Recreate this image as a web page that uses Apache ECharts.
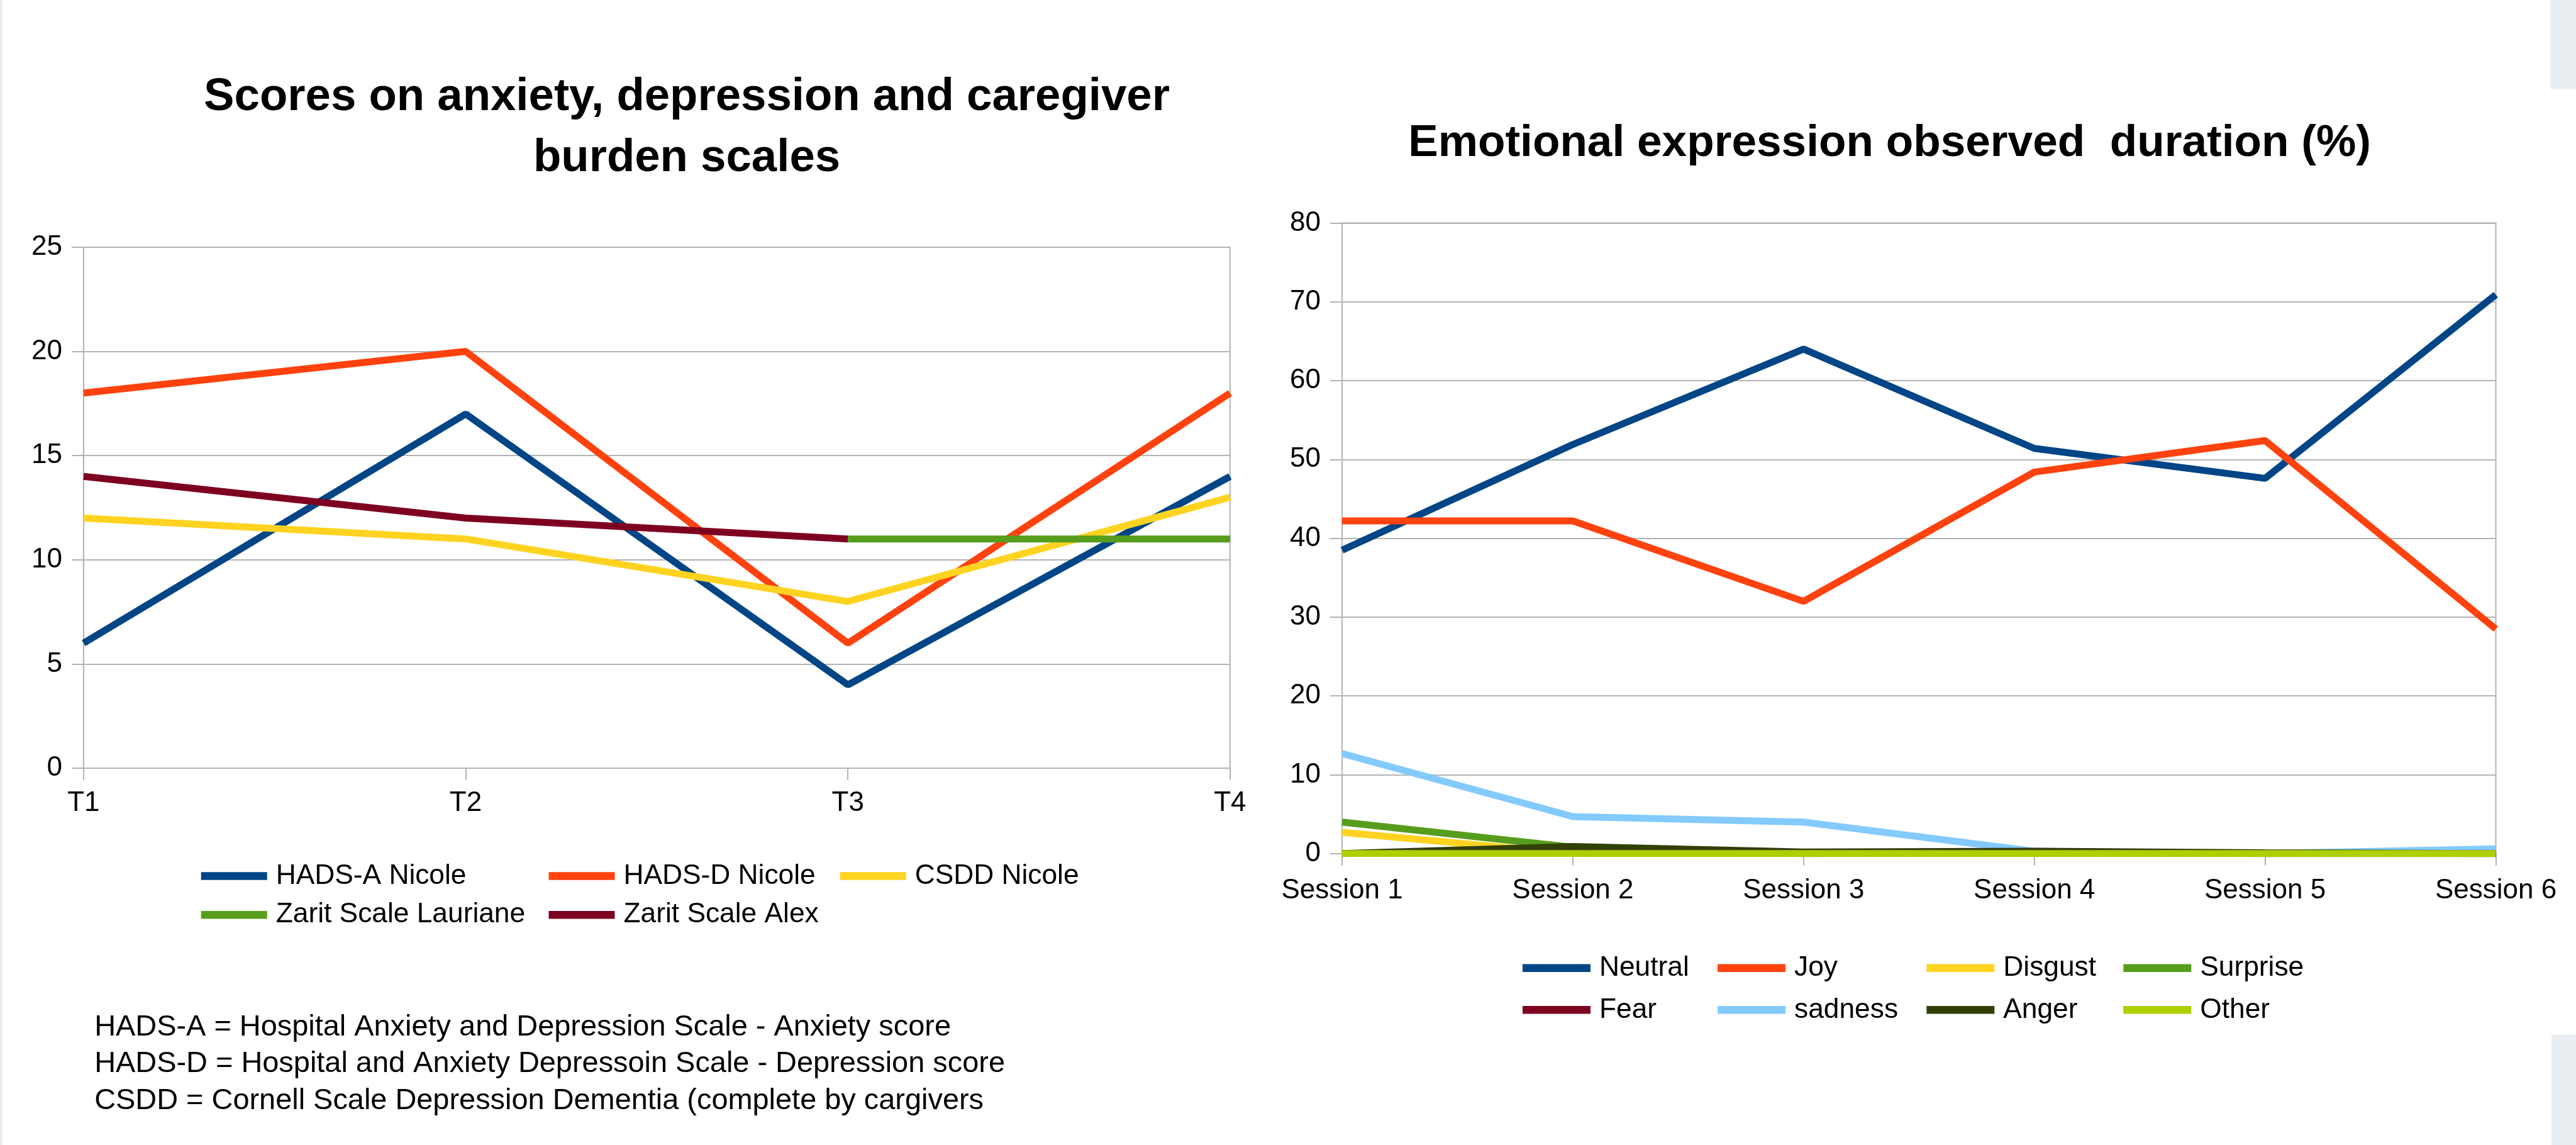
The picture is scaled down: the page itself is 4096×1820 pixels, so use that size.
<!DOCTYPE html>
<html>
<head>
<meta charset="utf-8">
<script src="https://cdn.jsdelivr.net/npm/echarts@6/dist/echarts.min.js"></script>
<style>html,body{margin:0;padding:0;background:#fff}#c{width:4096px;height:1820px}</style>
</head>
<body>
<div id="c"></div>
<script>
// ---- data ----
const timeCats = ['T1', 'T2', 'T3', 'T4'];
const hadsA = [6, 17, 4, 14];
const hadsD = [18, 20, 6, 18];
const csdd = [12, 11, 8, 13];
const zaritLauriane = [null, null, 11, 11];
const zaritAlex = [14, 12, 11, null];

const sessionCats = ['Session 1', 'Session 2', 'Session 3', 'Session 4', 'Session 5', 'Session 6'];
const neutral = [38.5, 51.9, 64.0, 51.4, 47.6, 70.9];
const joy = [42.2, 42.2, 32.0, 48.4, 52.4, 28.5];
const disgust = [2.7, 0, 0, 0, 0, 0];
const surprise = [4.0, 0.8, 0, 0, 0, 0];
const fear = [0, 0.3, 0, 0.2, 0, 0];
const sadness = [12.7, 4.7, 4.0, 0.3, 0, 0.6];
const anger = [0, 0.9, 0.2, 0.3, 0.1, 0];
const other = [0, 0, 0, 0, 0, 0];

const leftTicks = [0, 25, 5];   // min, max, interval
const rightTicks = [0, 80, 10];

const titleLeft = ['Scores on anxiety, depression and caregiver', 'burden scales'];
const titleRight = 'Emotional expression observed  duration (%)';
const notes = [
  'HADS-A = Hospital Anxiety and Depression Scale - Anxiety score',
  'HADS-D = Hospital and Anxiety Depressoin Scale - Depression score',
  'CSDD = Cornell Scale Depression Dementia (complete by cargivers'
];

// ---- layout ----
const k = 0.963;
const FONT = '"Liberation Sans", Arial, sans-serif';
const C = {
  blue: '#004586', orange: '#ff420e', yellow: '#ffd320', green: '#579d1c',
  maroon: '#7e0021', lightblue: '#83caff', darkgreen: '#314004', lime: '#aecf00'
};
const gridColor = '#b3b3b3';
const lw = 11;
const tickFont = 44;

function lineSeries(name, data, color, xi) {
  return {
    name, type: 'line', data, xAxisIndex: xi, yAxisIndex: xi,
    showSymbol: false, symbol: 'none', connectNulls: false,
    lineStyle: { color, width: lw }, itemStyle: { color },
    emphasis: { disabled: true }, animation: false
  };
}

function legendCol(names, x, top, gap, symW) {
  return {
    data: names, orient: 'vertical', left: x, top: top, padding: 0,
    itemGap: gap, itemWidth: symW, itemHeight: 12.5, icon: 'rect',
    selectedMode: false,
    textStyle: { fontFamily: FONT, fontSize: 44.3, lineHeight: 44, color: '#000', padding: [0, 0, 0, 9] }
  };
}

function gAxisX(cats, gi, margin) {
  return {
    type: 'category', gridIndex: gi, data: cats, boundaryGap: false,
    axisLine: { show: true, lineStyle: { color: gridColor, width: 2 } },
    axisTick: { show: true, length: 19, lineStyle: { color: gridColor, width: 2 } },
    axisLabel: { interval: 0, margin, color: '#000', fontFamily: FONT, fontSize: tickFont },
    splitLine: { show: false }
  };
}
function gAxisY(t, gi) {
  return {
    type: 'value', gridIndex: gi, min: t[0], max: t[1], interval: t[2],
    axisLine: { show: true, lineStyle: { color: gridColor, width: 2 } },
    axisTick: { show: true, length: 19, lineStyle: { color: gridColor, width: 2 } },
    axisLabel: { margin: 34, color: '#000', fontFamily: FONT, fontSize: tickFont },
    splitLine: { show: true, lineStyle: { color: gridColor, width: 2 } }
  };
}

const titleFont = 72.6;
const graphic = [
  { type: 'rect', shape: { x: 0, y: 0, width: 4, height: 1820 }, style: { fill: '#e8eef1' }, silent: true },
  { type: 'rect', shape: { x: 4211 * k, y: 0, width: 4096 - 4211 * k, height: 147 * k }, style: { fill: '#e8eef1' }, silent: true },
  { type: 'rect', shape: { x: 4213 * k, y: 1708 * k, width: 4096 - 4213 * k, height: 1820 - 1708 * k }, style: { fill: '#e8eef1' }, silent: true },
  { type: 'text', x: 1134 * k, y: 161 * k, style: { text: titleLeft[0], font: 'bold ' + titleFont + 'px ' + FONT, fill: '#000', align: 'center', verticalAlign: 'middle' } },
  { type: 'text', x: 1134 * k, y: 262 * k, style: { text: titleLeft[1], font: 'bold ' + titleFont + 'px ' + FONT, fill: '#000', align: 'center', verticalAlign: 'middle' } },
  { type: 'text', x: 3120 * k, y: 237 * k, style: { text: titleRight, font: 'bold 71.2px ' + FONT, fill: '#000', align: 'center', verticalAlign: 'middle' } }
];
const noteY = [1696, 1756, 1817];
notes.forEach((t, i) => graphic.push({
  type: 'text', x: 156 * k, y: noteY[i] * k,
  style: { text: t, font: '46.9px ' + FONT, fill: '#000', align: 'left', verticalAlign: 'middle' }
}));

const option = {
  backgroundColor: '#ffffff',
  animation: false,
  grid: [
    { left: 138 * k, top: 408 * k, width: (2031 - 138) * k, height: (1268 - 408) * k, show: true, borderColor: gridColor, borderWidth: 2, containLabel: false },
    { left: 2216 * k, top: 368 * k, width: (4121 - 2216) * k, height: (1409 - 368) * k, show: true, borderColor: gridColor, borderWidth: 2, containLabel: false }
  ],
  xAxis: [gAxisX(timeCats, 0, 34), gAxisX(sessionCats, 1, 37)],
  yAxis: [gAxisY(leftTicks, 0), gAxisY(rightTicks, 1)],
  legend: [
    legendCol(['HADS-A Nicole', 'Zarit Scale Lauriane'], 332 * k, 1446 * k - 22, 64 * k - 44, 105),
    legendCol(['HADS-D Nicole', 'Zarit Scale Alex'], 906 * k, 1446 * k - 22, 64 * k - 44, 105),
    legendCol(['CSDD Nicole'], 1387 * k, 1446 * k - 22, 64 * k - 44, 105),
    legendCol(['Neutral', 'Fear'], 2514 * k, 1598 * k - 22, 69 * k - 44, 108),
    legendCol(['Joy', 'sadness'], 2836 * k, 1598 * k - 22, 69 * k - 44, 108),
    legendCol(['Disgust', 'Anger'], 3181 * k, 1598 * k - 22, 69 * k - 44, 108),
    legendCol(['Surprise', 'Other'], 3506 * k, 1598 * k - 22, 69 * k - 44, 108)
  ],
  graphic,
  series: [
    lineSeries('HADS-A Nicole', hadsA, C.blue, 0),
    lineSeries('HADS-D Nicole', hadsD, C.orange, 0),
    lineSeries('CSDD Nicole', csdd, C.yellow, 0),
    lineSeries('Zarit Scale Lauriane', zaritLauriane, C.green, 0),
    lineSeries('Zarit Scale Alex', zaritAlex, C.maroon, 0),
    lineSeries('Neutral', neutral, C.blue, 1),
    lineSeries('Joy', joy, C.orange, 1),
    lineSeries('Disgust', disgust, C.yellow, 1),
    lineSeries('Surprise', surprise, C.green, 1),
    lineSeries('Fear', fear, C.maroon, 1),
    lineSeries('sadness', sadness, C.lightblue, 1),
    lineSeries('Anger', anger, C.darkgreen, 1),
    lineSeries('Other', other, C.lime, 1)
  ]
};

const chart = echarts.init(document.getElementById('c'), null, { renderer: 'canvas' });
chart.setOption(option);
</script>
</body>
</html>
